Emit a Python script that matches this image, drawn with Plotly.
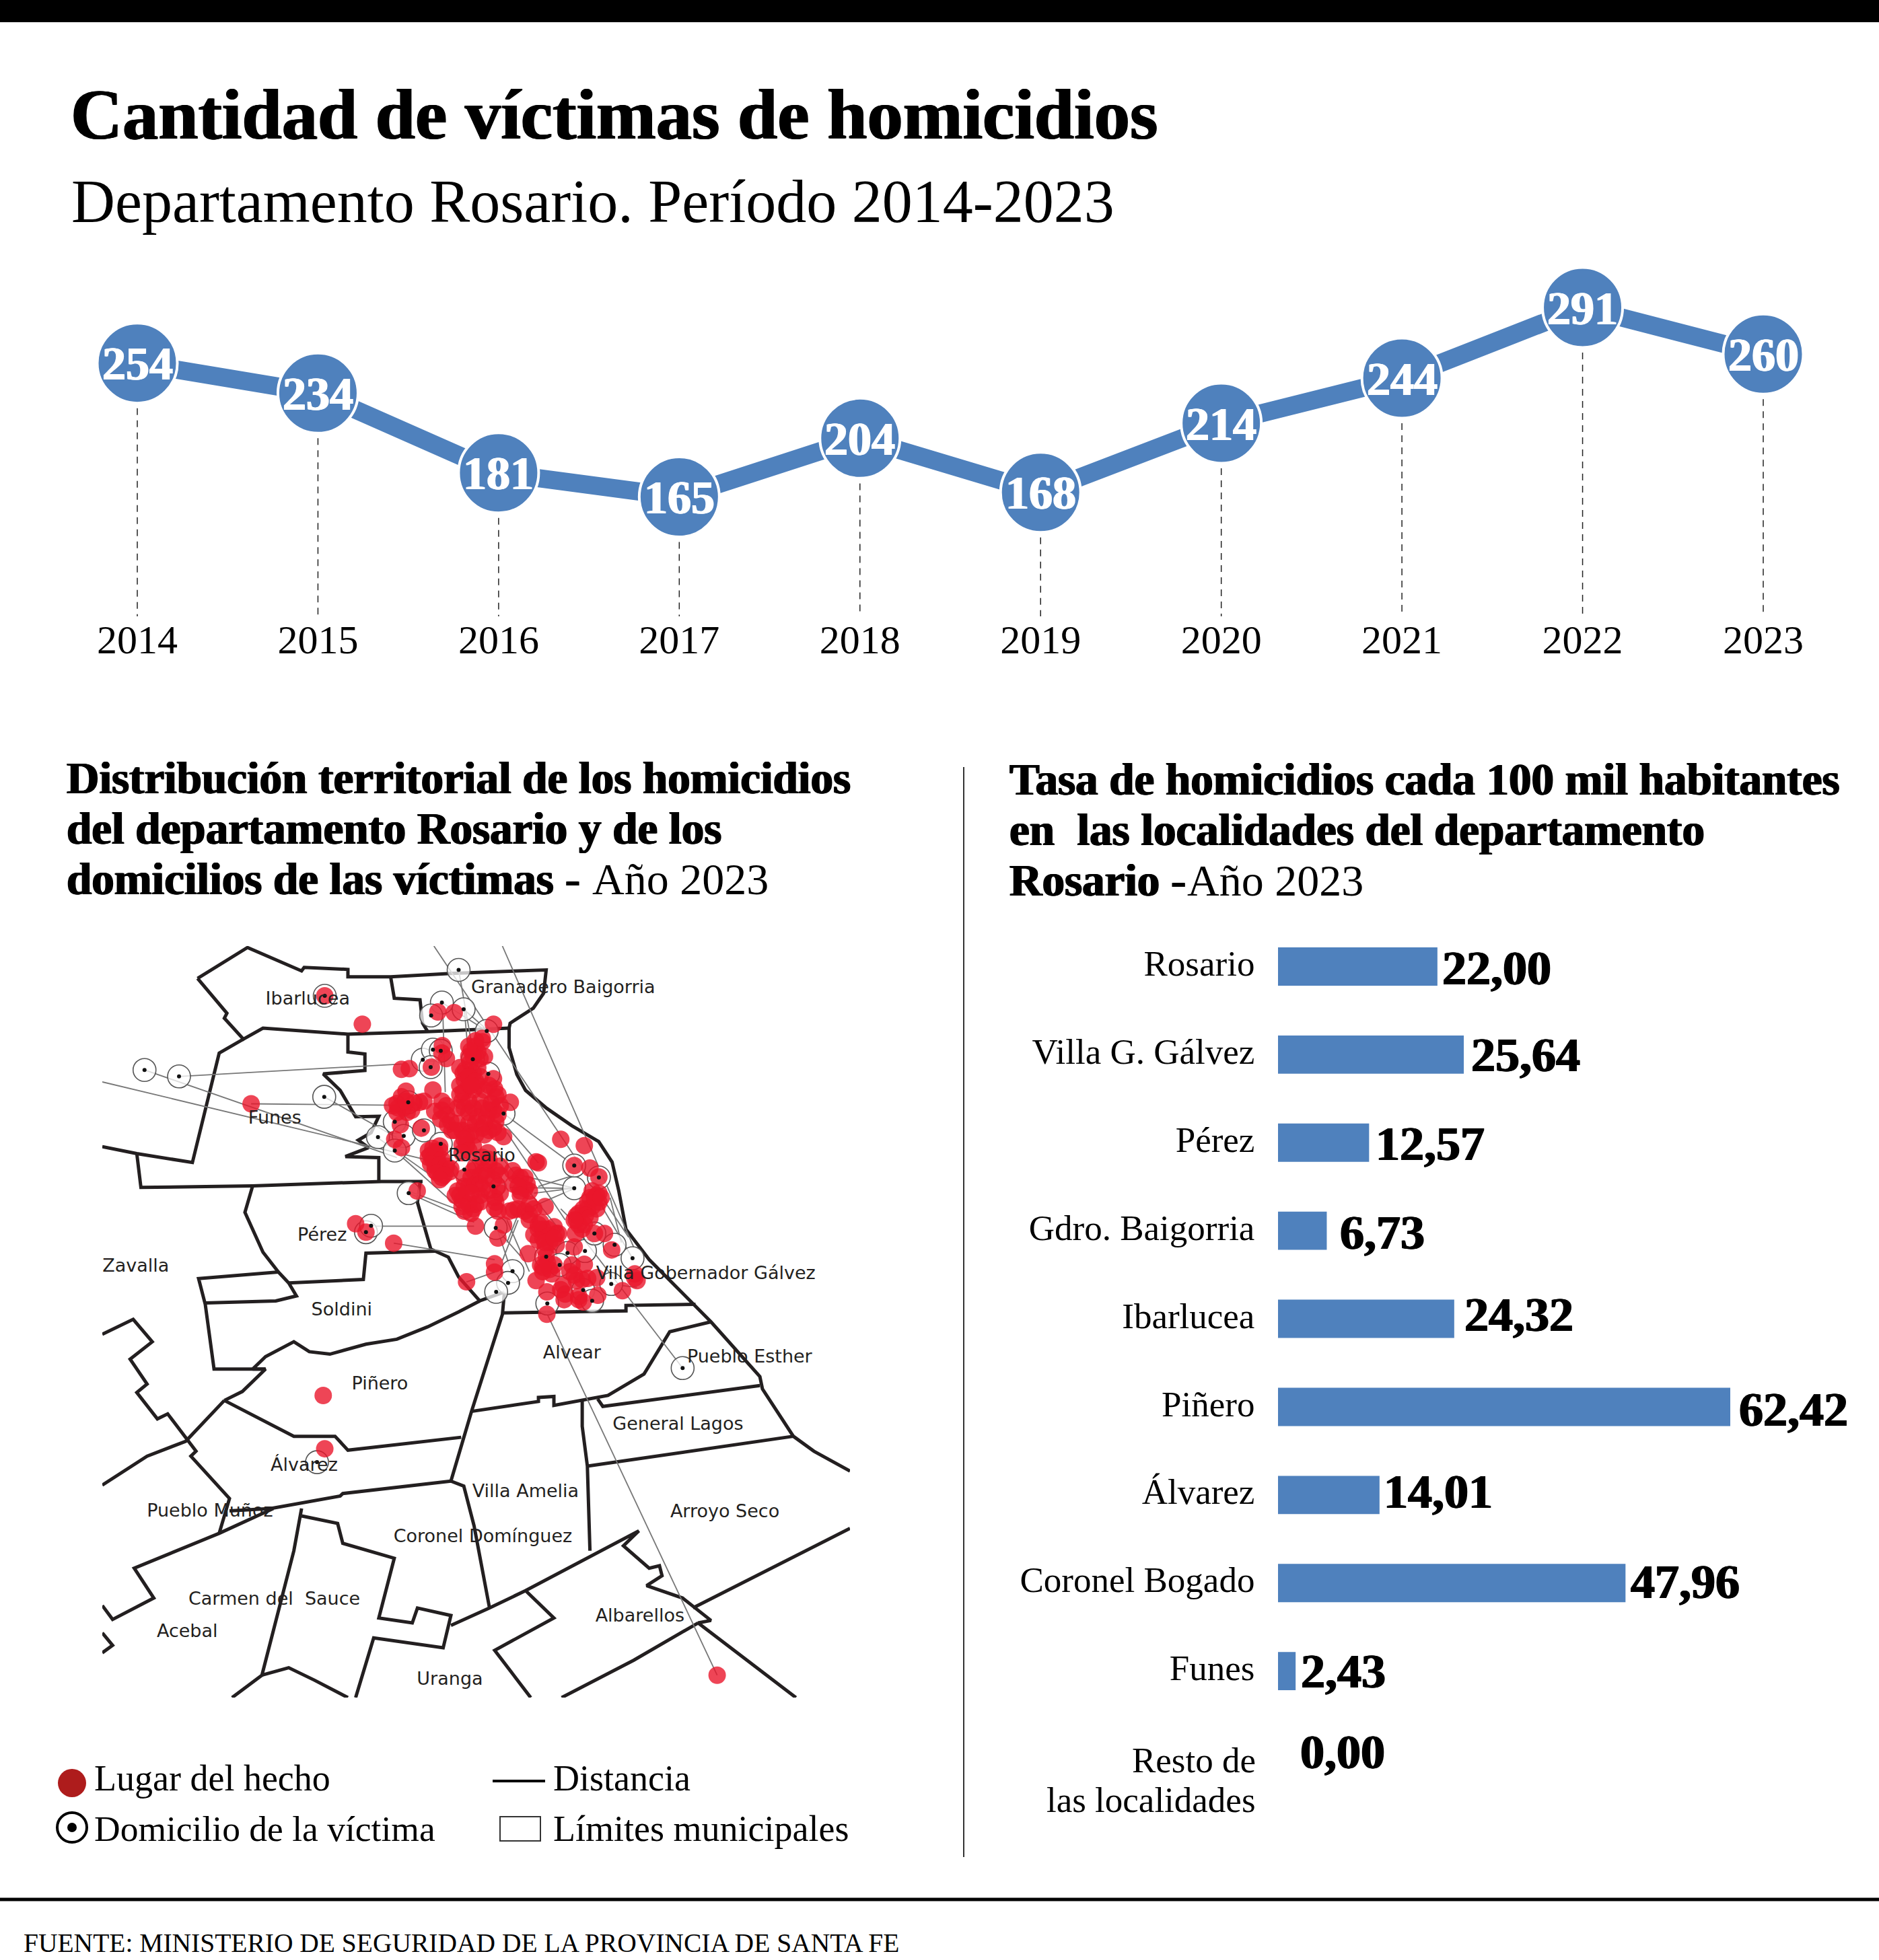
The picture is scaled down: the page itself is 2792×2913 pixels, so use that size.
import plotly.graph_objects as go

W = 2792
H = 2913

# -------------------------------
# Datos
# -------------------------------
anios = [2014, 2015, 2016, 2017, 2018, 2019, 2020, 2021, 2022, 2023]
victimas = [254, 234, 181, 165, 204, 168, 214, 244, 291, 260]

localidades = ['Rosario', 'Villa G. Gálvez', 'Pérez', 'Gdro. Baigorria', 'Ibarlucea', 'Piñero',
               'Álvarez', 'Coronel Bogado', 'Funes', 'Resto de las localidades']
tasas = [22.00, 25.64, 12.57, 6.73, 24.32, 62.42, 14.01, 47.96, 2.43, 0.00]
tasas_txt = ['22,00', '25,64', '12,57', '6,73', '24,32', '62,42', '14,01', '47,96', '2,43', '0,00']

# mapa: coordenadas (unidades del mapa)
limites = [
    [(253, 100), (350, 38), (455, 85), (460, 78), (545, 82), (545, 97), (628, 97), (745, 90), (930, 83), (925, 130), (905, 160), (860, 190), (858, 200)],
    [(253, 100), (310, 170), (305, 180), (342, 222), (380, 200), (545, 212), (700, 207), (858, 200)],
    [(628, 97), (635, 140), (685, 143), (690, 190), (700, 207)],
    [(342, 222), (295, 250), (243, 470), (135, 452), (68, 438)],
    [(135, 452), (143, 520), (360, 517), (610, 508), (690, 508)],
    [(545, 212), (545, 248), (578, 252), (578, 285), (497, 292), (530, 325), (560, 378), (605, 377), (590, 410), (565, 425), (585, 440), (540, 458), (605, 460), (605, 508)],
    [(858, 200), (858, 239), (873, 293), (890, 325), (931, 361), (980, 396), (1032, 428), (1058, 469), (1071, 527), (1085, 604), (1130, 665), (1211, 748), (1250, 790), (1345, 900), (1350, 925), (1410, 1020), (1450, 1050), (1520, 1090)],
    [(685, 510), (680, 550), (706, 644), (740, 660), (760, 700), (801, 748), (849, 730)],
    [(849, 730), (845, 775), (785, 970), (745, 1110)],
    [(845, 772), (1085, 768), (1085, 757), (1220, 755)],
    [(360, 517), (345, 570), (380, 650), (410, 690), (255, 703), (268, 755), (285, 885), (385, 885)],
    [(410, 690), (430, 712), (445, 738), (405, 748), (268, 752)],
    [(430, 712), (575, 705), (580, 652), (715, 648)],
    [(801, 748), (760, 770), (700, 800), (640, 825), (580, 835), (510, 855), (470, 850), (440, 830), (385, 860), (360, 885), (385, 885), (340, 930), (305, 948)],
    [(305, 948), (440, 1020), (520, 1020), (545, 1048), (765, 1022)],
    [(68, 815), (128, 785), (165, 830), (122, 865), (155, 915), (135, 932), (175, 985), (195, 975), (250, 1050), (240, 1060), (315, 1145), (295, 1215)],
    [(305, 948), (230, 1030), (155, 1060), (68, 1118)],
    [(315, 1170), (395, 1165), (530, 1140), (535, 1135), (745, 1110)],
    [(400, 1165), (295, 1215), (130, 1285), (168, 1345), (88, 1388), (68, 1360)],
    [(68, 1415), (88, 1440), (68, 1455)],
    [(455, 1165), (440, 1250), (378, 1500), (320, 1545)],
    [(378, 1500), (430, 1485), (480, 1510), (545, 1545)],
    [(455, 1180), (525, 1195), (535, 1235), (635, 1265), (605, 1385), (670, 1395), (680, 1365), (745, 1380), (730, 1445), (595, 1425), (560, 1545)],
    [(745, 1110), (770, 1120), (790, 1200), (820, 1365)],
    [(745, 1400), (820, 1365), (890, 1330), (1110, 1210), (1080, 1240), (1130, 1285), (1150, 1280), (1155, 1300), (1125, 1320), (1195, 1345), (1250, 1390), (1225, 1395), (1415, 1545)],
    [(890, 1330), (945, 1385), (830, 1450), (900, 1545)],
    [(1225, 1395), (1100, 1470), (960, 1545)],
    [(1215, 1365), (1520, 1205)],
    [(785, 970), (915, 950), (915, 942), (945, 940), (945, 958), (985, 950), (1050, 938), (1120, 895), (1170, 810), (1250, 790)],
    [(1000, 945), (1000, 1000), (1010, 1080), (1015, 1250)],
    [(1030, 945), (1040, 960), (1345, 918)],
    [(1010, 1080), (1270, 1040), (1410, 1020)],
]

# hechos fuera del casco urbano
hechos_lejos = [(500, 135), (573, 192), (357, 352), (497, 938), (500, 1045), (1262, 1500), (560, 593), (580, 610)]
hechos_casco = [
    (332, 72), (405, 75), (580, 127), (352, 222), (350, 255), (370, 280), (500, 225), (530, 205), (480, 245), (490, 270),
    (520, 280), (475, 300), (170, 328), (205, 325), (303, 318), (445, 345), (490, 345), (520, 360), (450, 375), (580, 370),
    (585, 415), (190, 425), (310, 420), (195, 520), (150, 480), (155, 500), (170, 450), (250, 475), (225, 478), (318, 515),
    (370, 490), (370, 530), (375, 575), (395, 600), (445, 430), (490, 420), (540, 420), (470, 470), (440, 470), (520, 470),
    (570, 480), (580, 510), (655, 475), (470, 520), (510, 540), (550, 540), (470, 570), (440, 600), (480, 610), (530, 590),
    (580, 590), (625, 628), (560, 600), (590, 450), (165, 575), (258, 590), (140, 640), (170, 677), (460, 665), (440, 665),
    (490, 670), (555, 700), (320, 695), (300, 710), (340, 690), (330, 730), (320, 760), (350, 780), (385, 785), (350, 810),
    (320, 780), (500, 760), (560, 750), (590, 780), (480, 810), (470, 850), (520, 800), (580, 820), (540, 780), (610, 760),
    (665, 780), (700, 810), (730, 840), (700, 870), (410, 890), (460, 880), (520, 890), (500, 930), (470, 930), (490, 950),
    (585, 900), (585, 945), (610, 880), (880, 640), (985, 668), (780, 745), (770, 740), (940, 757), (1010, 768), (1050, 808),
    (1040, 890), (1010, 900), (1050, 920), (1000, 950), (960, 970), (950, 1000), (985, 1020), (975, 1040), (1020, 940), (670, 955),
    (740, 930), (740, 975), (810, 940), (500, 1027), (625, 1022), (600, 1080), (780, 1020), (820, 1040), (860, 1060), (760, 1065),
    (800, 1080), (830, 1100), (810, 1130), (860, 1110), (815, 1160), (945, 1060), (1030, 1060), (1075, 1060), (940, 1120), (735, 1150),
    (1107, 1133), (585, 1195), (585, 1232), (460, 1275), (830, 1220), (800, 1230), (770, 1270), (818, 1320), (985, 1197), (940, 1245),
    (975, 1265), (1040, 1257), (1210, 1258), (1155, 1315), (890, 1290), (895, 1355), (960, 1355), (980, 1365), (1045, 1335), (818, 1420),
    (240, 870), (135, 1103),
    (430, 400), (470, 400), (510, 400), (560, 400), (430, 440), (600, 440), (420, 500), (450, 500), (490, 500), (530, 500),
    (560, 510), (610, 490), (350, 470), (350, 510), (345, 550), (390, 560), (410, 600), (420, 570), (500, 570), (540, 570),
    (500, 620), (460, 630), (540, 620), (590, 560), (600, 530), (600, 610), (455, 330), (430, 320), (510, 320), (470, 360),
    (500, 380), (480, 400), (470, 270), (510, 250), (500, 200), (470, 225), (540, 270), (530, 190), (150, 520), (180, 500),
    (130, 490), (215, 510), (190, 470), (270, 470), (290, 690), (310, 680), (340, 670), (290, 720), (310, 730), (350, 730),
    (300, 750), (340, 755), (370, 760), (390, 770), (330, 790), (360, 800), (340, 820), (430, 890), (440, 910), (450, 850),
    (450, 810), (490, 780), (500, 840), (520, 840), (550, 800), (610, 800), (450, 960), (480, 970), (560, 870), (600, 850),
    (530, 860), (480, 880), (520, 920), (590, 920), (420, 870), (440, 940), (600, 960), (450, 640), (470, 690), (530, 720),
    (560, 730), (440, 700), (680, 800), (720, 810), (670, 840), (720, 860), (740, 870), (690, 850), (700, 890), (690, 950),
    (720, 960), (760, 950), (740, 1000), (650, 960), (790, 1010), (800, 1040), (850, 1030), (780, 1040), (830, 1070), (780, 1090),
    (820, 1190), (850, 1200), (790, 1200), (810, 1100), (870, 1060), (850, 1080), (840, 1240), (800, 1210), (1020, 870), (1050, 880),
    (1000, 920), (1040, 950), (980, 950), (950, 980), (990, 980), (960, 1020), (1010, 990), (940, 1000), (1030, 900), (1060, 900),
    (920, 1230), (950, 1270), (1000, 1260), (1210, 1240), (1220, 1270), (960, 1340), (900, 1330), (880, 1310), (930, 1200),
]

domicilios_lejos = [(760, 83), (150, 284), (217, 297), (499, 338), (1195, 883), (485, 1072), (580, 610), (590, 597), (500, 135)]
domicilios_casco = [
    (350, 30), (302, 88), (447, 60), (550, 157), (488, 283), (557, 348), (265, 285), (310, 240), (345, 245), (300, 318),
    (200, 475), (140, 562), (180, 625), (65, 630), (270, 600), (345, 660), (580, 850), (940, 858), (940, 757), (202, 880),
    (590, 1035), (815, 1163), (910, 1147), (988, 1138), (1200, 1170), (665, 1228), (645, 1280), (592, 1320), (820, 1372), (980, 1312),
    (1020, 1360), (1105, 1285), (625, 525), (140, 690), (450, 775), (1050, 810), (1030, 1060), (1120, 1110), (875, 1200),
]

distancias_lejos = [
    ((217, 297), (650, 272)), ((150, 284), (640, 460)), ((68, 308), (720, 470)), ((357, 352), (640, 355)),
    ((499, 338), (640, 420)), ((760, 83), (790, 260)), ((712, 35), (1090, 620)), ((845, 35), (1100, 640)),
    ((930, 770), (1262, 1500)), ((1195, 883), (1000, 620)), ((580, 598), (790, 598)), ((634, 632), (830, 665)),
    ((775, 710), (830, 690)), ((985, 522), (860, 520)), ((985, 522), (900, 560)), ((660, 530), (790, 590)),
]
distancias_casco = [
    ((625, 525), (940, 757)), ((620, 560), (780, 745)), ((640, 610), (900, 1000)), ((140, 690), (430, 950)),
    ((600, 700), (880, 1050)), ((700, 800), (940, 858)), ((760, 880), (940, 858)), ((780, 850), (940, 800)),
    ((640, 1100), (700, 950)), ((620, 1180), (690, 1000)), ((660, 1230), (600, 1050)), ((740, 1230), (640, 1000)),
    ((700, 1160), (590, 1035)), ((950, 1020), (880, 950)), ((1100, 900), (1150, 1100)), ((1200, 1170), (1040, 900)),
    ((1100, 1285), (1220, 1300)), ((200, 870), (440, 960)), ((60, 630), (300, 800)), ((350, 30), (540, 150)),
    ((447, 60), (550, 150)), ((450, 60), (465, 230)), ((355, 100), (365, 430)),
]

pueblos = ['Granadero Baigorria', 'Ibarlucea', 'Funes', 'Rosario', 'Pérez', 'Zavalla', 'Villa Gobernador Gálvez',
           'Soldini', 'Alvear', 'Pueblo Esther', 'Piñero', 'General Lagos', 'Álvarez', 'Villa Amelia', 'Pueblo Muñoz',
           'Arroyo Seco', 'Coronel Domínguez', 'Carmen del  Sauce', 'Albarellos', 'Acebal', 'Uranga']
pueblos_x = [963, 467, 403, 805, 495, 133, 1240, 533, 980, 1325, 607, 1186, 460, 890, 277, 1277, 807, 402, 1112, 233, 743]
pueblos_y = [120, 143, 383, 458, 618, 680, 695, 768, 855, 862, 917, 998, 1080, 1133, 1172, 1173, 1223, 1349, 1383, 1414, 1510]

# -------------------------------
# Estilos
# -------------------------------
SERIF = 'Liberation Serif'
AZUL = '#4f81bd'
NEGRO = '#000000'


def casco(puntos):
    # pasa del recorte ampliado a las unidades del mapa
    return [(575 + 0.4356 * x, 135 + 0.4506 * y) for x, y in puntos]


def xs(puntos):
    return [p[0] for p in puntos]


def ys(puntos):
    return [p[1] for p in puntos]


def texto(s, px, py, size, anchor='left', grueso=False):
    font = dict(family=SERIF, size=size, color=NEGRO)
    if grueso:
        font['weight'] = 'bold'
        font['shadow'] = '1px 0 0 #000, -1px 0 0 #000'
    fig.add_annotation(x=px / W, y=1 - py / H, xref='paper', yref='paper', xanchor=anchor, yanchor='middle',
                       showarrow=False, text=s, font=font)


fig = go.Figure()

# -------------------------------
# Línea de víctimas
# -------------------------------
guia_x, guia_y = [], []
for a, v in zip(anios, victimas):
    guia_x += [a, a, None]
    guia_y += [v - 30, 85.5, None]
fig.add_trace(go.Scatter(x=guia_x, y=guia_y, mode='lines', xaxis='x', yaxis='y',
                         line=dict(color='#222222', width=1.5, dash='10px,8px')))
fig.add_trace(go.Scatter(x=anios, y=victimas, mode='lines+markers', xaxis='x', yaxis='y',
                         line=dict(color=AZUL, width=27),
                         marker=dict(size=119, color=AZUL, line=dict(color='white', width=4))))
for a, v in zip(anios, victimas):
    fig.add_annotation(x=a, y=v, xref='x', yref='y', showarrow=False, yshift=-1, text=str(v),
                       font=dict(family=SERIF, size=70, color='white', weight='bold',
                                 shadow='1px 0 0 #fff, -1px 0 0 #fff'))

# -------------------------------
# Mapa
# -------------------------------
lim_x, lim_y = [], []
for tramo in limites:
    lim_x += xs(tramo) + [None]
    lim_y += ys(tramo) + [None]
fig.add_trace(go.Scatter(x=lim_x, y=lim_y, mode='lines', xaxis='x2', yaxis='y2',
                         line=dict(color='#231f20', width=5)))

dist_x, dist_y = [], []
for a, b in distancias_lejos + [tuple(casco(d)) for d in distancias_casco]:
    dist_x += [a[0], b[0], None]
    dist_y += [a[1], b[1], None]
fig.add_trace(go.Scatter(x=dist_x, y=dist_y, mode='lines', xaxis='x2', yaxis='y2',
                         line=dict(color='#777777', width=1.8)))

domicilios = domicilios_lejos + casco(domicilios_casco)
fig.add_trace(go.Scatter(x=xs(domicilios), y=ys(domicilios), mode='markers', xaxis='x2', yaxis='y2',
                         marker=dict(size=34, color='rgba(255,255,255,0.75)', line=dict(color='#555555', width=1.6))))

hechos = hechos_lejos + casco(hechos_casco)
fig.add_trace(go.Scatter(x=xs(hechos), y=ys(hechos), mode='markers', xaxis='x2', yaxis='y2',
                         marker=dict(size=26, color='rgba(234,22,44,0.8)')))

fig.add_trace(go.Scatter(x=xs(domicilios), y=ys(domicilios), mode='markers', xaxis='x2', yaxis='y2',
                         marker=dict(size=6, color='#111111')))

fig.add_trace(go.Scatter(x=pueblos_x, y=pueblos_y, mode='text', xaxis='x2', yaxis='y2', text=pueblos,
                         textposition='middle center',
                         textfont=dict(family='DejaVu Sans', size=27, color='#231f20')))

# -------------------------------
# Barras
# -------------------------------
fig.add_trace(go.Bar(y=localidades, x=tasas, orientation='h', xaxis='x3', yaxis='y3',
                     marker=dict(color=AZUL, line=dict(width=0))))

dx_valor = [5, 9, 8, 18, 13, 11, 4, 6, 6, 31]
dy_valor = [-3, -1, -2, -3, 6, -4, 5, 2, 0, 11]
for loc, val, txt, dx, dy in zip(localidades, tasas, tasas_txt, dx_valor, dy_valor):
    fig.add_annotation(x=val, y=loc, xref='x3', yref='y3', xanchor='left', yanchor='middle', showarrow=False,
                       xshift=dx, yshift=dy, text=txt,
                       font=dict(family=SERIF, size=72, color=NEGRO, weight='bold',
                                 shadow='1px 0 0 #000, -1px 0 0 #000'))

# -------------------------------
# Textos
# -------------------------------
texto('Cantidad de víctimas de homicidios', 103, 170, 106.5, grueso=True)
texto('Departamento Rosario. Período 2014-2023', 104, 299, 90)

for s, px, py in [('Distribución territorial de los homicidios', 97, 1156),
                  ('del departamento Rosario y de los', 97, 1231),
                  ('domicilios de las víctimas -', 97, 1306),
                  ('Tasa de homicidios cada 100 mil habitantes', 1498, 1158),
                  ('en  las localidades del departamento', 1498, 1233),
                  ('Rosario -', 1498, 1308)]:
    texto(s, px, py, 67, grueso=True)
texto('Año 2023', 878, 1306, 66)
texto('Año 2023', 1762, 1308, 66)

texto('Resto de', 1868, 2616, 53, anchor='right')
texto('las localidades', 1868, 2675, 53, anchor='right')

texto('Lugar del hecho', 138, 2643, 54)
texto('Domicilio de la víctima', 138, 2718, 53.5)
texto('Distancia', 820, 2643, 54)
texto('Límites municipales', 820, 2718, 54)
texto('FUENTE: MINISTERIO DE SEGURIDAD DE LA PROVINCIA DE SANTA FE', 33, 2888, 39.5)

# -------------------------------
# Formas de la página y leyenda
# -------------------------------
def caja(tipo, x0, y0, x1, y1, **kw):
    fig.add_shape(type=tipo, xref='paper', yref='paper', x0=x0 / W, x1=x1 / W, y0=1 - y0 / H, y1=1 - y1 / H, **kw)


caja('rect', 0, 0, W, 33, fillcolor=NEGRO, line_width=0)
caja('line', 0, 2823, W, 2823, line=dict(color=NEGRO, width=5))
caja('line', 1432, 1140, 1432, 2760, line=dict(color='#333333', width=2))
caja('circle', 86, 2629, 128, 2671, fillcolor='#ae1c1c', line_width=0)
caja('circle', 85, 2694, 129, 2738, fillcolor='white', line=dict(color=NEGRO, width=4))
caja('circle', 100, 2709, 114, 2723, fillcolor=NEGRO, line_width=0)
caja('line', 732, 2647, 810, 2647, line=dict(color=NEGRO, width=4))
caja('rect', 743, 2700, 803, 2736, fillcolor='white', line=dict(color='#333333', width=2))

# -------------------------------
# Ejes
# -------------------------------
px_anio = (2620 - 204) / 9
px_victima = (738.5 - 457) / (291 - 165)
oculto = dict(visible=False, showgrid=False, zeroline=False, fixedrange=True)

fig.update_layout(
    width=W, height=H, autosize=False, showlegend=False,
    margin=dict(l=0, r=0, t=0, b=0), paper_bgcolor='white', plot_bgcolor='rgba(0,0,0,0)',
    xaxis=dict(domain=[0, 1], range=[2014 - 204 / px_anio, 2023 + (W - 2620) / px_anio], anchor='y',
               tickmode='array', tickvals=anios, ticktext=[str(a) for a in anios],
               tickfont=dict(family=SERIF, size=60, color=NEGRO), ticks='', ticklabelstandoff=-6,
               showgrid=False, zeroline=False, showline=False),
    yaxis=dict(oculto, domain=[1 - 916 / H, 1 - 380 / H], anchor='x',
               range=[291 - (916 - 457) / px_victima, 291 + (457 - 380) / px_victima]),
    xaxis2=dict(oculto, domain=[152 / W, 1263 / W], range=[68, 1520], anchor='y2'),
    yaxis2=dict(oculto, domain=[1 - 2523 / H, 1 - 1406 / H], range=[1545, 35], anchor='x2'),
    xaxis3=dict(oculto, domain=[1899 / W, 1], range=[0, (W - 1899) / 10.766], anchor='y3'),
    yaxis3=dict(domain=[1 - 2680 / H, 1 - 1371 / H], anchor='x3', type='category', autorange='reversed',
                categoryorder='array', categoryarray=localidades,
                tickmode='array', tickvals=localidades[:-1], ticktext=localidades[:-1],
                tickfont=dict(family=SERIF, size=53, color=NEGRO), ticks='outside', ticklen=23,
                tickcolor='rgba(0,0,0,0)', ticklabelshift=5, showgrid=False, zeroline=False, showline=False),
    bargap=0.565,
)

fig.write_html('out.html', config={'displayModeBar': False}, post_script="document.body.style.margin='0';")
